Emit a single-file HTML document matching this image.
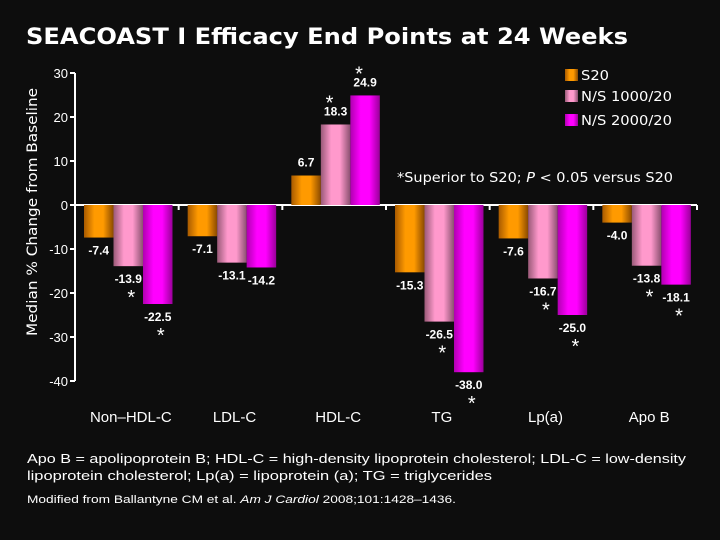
<!DOCTYPE html>
<html><head><meta charset="utf-8"><style>
html,body{margin:0;padding:0;background:#0d0d0d;}
svg{display:block;}
text{font-family:"DejaVu Sans","Liberation Sans",sans-serif;fill:#fff;}
.lab{font-family:"Liberation Sans",sans-serif;font-weight:bold;font-size:12px;text-anchor:middle;}
.star{font-family:"Liberation Sans",sans-serif;font-size:20px;text-anchor:middle;}
</style></head><body>
<svg id="chart" width="720" height="540" viewBox="0 0 720 540">
<defs>
<linearGradient id="gO" x1="0" x2="1" y1="0" y2="0"><stop offset="0" stop-color="#a85a00"/><stop offset="0.35" stop-color="#ff9a00"/><stop offset="0.65" stop-color="#ff9a00"/><stop offset="1" stop-color="#8a4a00"/></linearGradient>
<linearGradient id="gP" x1="0" x2="1" y1="0" y2="0"><stop offset="0" stop-color="#9a5a78"/><stop offset="0.35" stop-color="#ff99cc"/><stop offset="0.65" stop-color="#ff99cc"/><stop offset="1" stop-color="#8a5070"/></linearGradient>
<linearGradient id="gM" x1="0" x2="1" y1="0" y2="0"><stop offset="0" stop-color="#b000b0"/><stop offset="0.35" stop-color="#ff00ff"/><stop offset="0.65" stop-color="#ff00ff"/><stop offset="1" stop-color="#9a009a"/></linearGradient>
</defs>
<text x="26" y="44" font-size="22" font-weight="bold" textLength="602" lengthAdjust="spacingAndGlyphs">SEACOAST I Efficacy End Points at 24 Weeks</text>
<text transform="translate(37,212) rotate(-90)" font-size="14" text-anchor="middle" textLength="248" lengthAdjust="spacingAndGlyphs">Median % Change from Baseline</text>
<g id="axes"></g>
<g id="bars"></g>
<g>
<rect x="565" y="69" width="13" height="12" fill="url(#gO)"/>
<text x="581" y="80" font-size="13" textLength="28" lengthAdjust="spacingAndGlyphs">S20</text>
<rect x="565" y="90" width="13" height="12" fill="url(#gP)"/>
<text x="581" y="101" font-size="13" textLength="91" lengthAdjust="spacingAndGlyphs">N/S 1000/20</text>
<rect x="565" y="114" width="13" height="12" fill="url(#gM)"/>
<text x="581" y="125" font-size="13" textLength="91" lengthAdjust="spacingAndGlyphs">N/S 2000/20</text>
</g>
<text x="397" y="182" font-size="13" textLength="276" lengthAdjust="spacingAndGlyphs">*Superior to S20; <tspan font-style="italic">P</tspan> &lt; 0.05 versus S20</text>
<text x="27" y="463" font-size="13" textLength="659" lengthAdjust="spacingAndGlyphs" style="font-family:'Liberation Sans',sans-serif">Apo B = apolipoprotein B; HDL-C = high-density lipoprotein cholesterol; LDL-C = low-density</text>
<text x="27" y="480" font-size="13" textLength="465" lengthAdjust="spacingAndGlyphs" style="font-family:'Liberation Sans',sans-serif">lipoprotein cholesterol; Lp(a) = lipoprotein (a); TG = triglycerides</text>
<text x="27" y="503" font-size="11" textLength="429" lengthAdjust="spacingAndGlyphs" style="font-family:'Liberation Sans',sans-serif">Modified from Ballantyne CM et al. <tspan font-style="italic">Am J Cardiol</tspan> 2008;101:1428–1436.</text>
</svg>
<script>
const categories=["Non–HDL-C","LDL-C","HDL-C","TG","Lp(a)","Apo B"];
const s20=[-7.4,-7.1,6.7,-15.3,-7.6,-4.0];
const ns1000=[-13.9,-13.1,18.3,-26.5,-16.7,-13.8];
const ns2000=[-22.5,-14.2,24.9,-38.0,-25.0,-18.1];
const sig1000=[true,false,true,true,true,true];
const sig2000=[true,false,true,true,true,true];
const yTicks=[30,20,10,0,-10,-20,-30,-40];
const NS="http://www.w3.org/2000/svg";
const X0=75,X1=697,gw=(X1-X0)/categories.length;
function y(v){return 205-v*4.4;}
function gx(i){return X0+i*gw;}
function mk(tag,attrs,parent,txt){const e=document.createElementNS(NS,tag);for(const k in attrs)e.setAttribute(k,attrs[k]);if(txt!==undefined)e.textContent=txt;parent.appendChild(e);return e;}
const ax=document.getElementById('axes'),bg=document.getElementById('bars');
let l=mk('line',{x1:X0,x2:X0,y1:y(30),y2:y(-40),stroke:'#fff','stroke-width':2},ax);


yTicks.forEach(t=>{
 let tk=mk('line',{x1:X0-5,x2:X0,y1:y(t),y2:y(t),stroke:'#fff','stroke-width':2},ax);
 
 
 let tl=mk('text',{x:X0-7,y:y(t)+5,'font-size':13,'text-anchor':'end',style:"font-family:'Liberation Sans',sans-serif"},ax,String(t));
 
 
});
const series=[{v:s20,f:'url(#gO)',n:'s20',sig:null},{v:ns1000,f:'url(#gP)',n:'ns1000',sig:sig1000},{v:ns2000,f:'url(#gM)',n:'ns2000',sig:sig2000}];
categories.forEach((c,i)=>{
 series.forEach((s,j)=>{
  const v=s.v[i],bx=gx(i)+9+j*29.5,bw=29.5;
  const top=Math.min(y(v),y(0)),h=Math.abs(y(v)-y(0));
  let r=mk('rect',{x:bx,y:top,width:bw,height:h,fill:s.f},bg);
  
  
  const cx=bx+bw/2;
  let ly=v<0?y(v)+17:y(v)-9;
  let t=mk('text',{x:cx,y:ly,class:'lab'},bg,v.toFixed(1));
  
  
  if(s.sig&&s.sig[i]){
   let sy=v<0?ly+21:ly-6;
   let st=mk('text',{x:cx+(v<0?3:-6),y:sy,class:'star'},bg,'*');
   
   
  }
 });
 let cl=mk('text',{x:gx(i)+gw/2+4,y:422,'font-size':15,'text-anchor':'middle',style:"font-family:'Liberation Sans',sans-serif"},ax,c);
 
 
});
let z=mk('line',{x1:X0,x2:X1,y1:y(0),y2:y(0),stroke:'#fff','stroke-width':2},ax);


for(let i=1;i<=categories.length;i++){
 let tk=mk('line',{x1:gx(i),x2:gx(i),y1:y(0),y2:y(0)+5,stroke:'#fff','stroke-width':2},ax);
 
 
}
</script>
</body></html>
